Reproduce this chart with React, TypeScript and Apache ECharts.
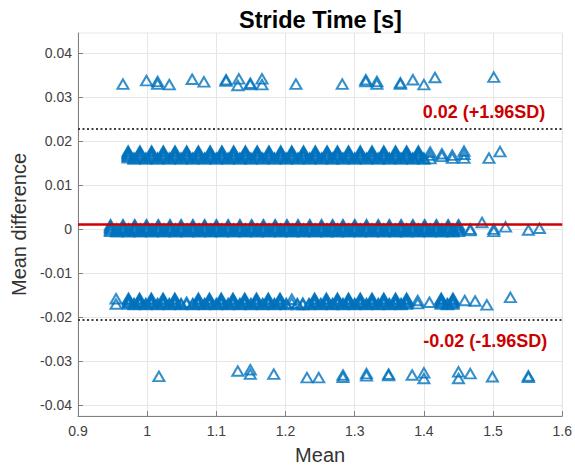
import React, { useEffect, useRef } from "react";
import * as echarts from "echarts";

const titleText = "Stride Time [s]";
const xName = "Mean";
const yName = "Mean difference";
const yTicks = [-0.04, -0.03, -0.02, -0.01, 0, 0.01, 0.02, 0.03, 0.04];

const meanDiff = 0.0012;
const limits = [0.0228, -0.0205];
const limitLabels = ["0.02 (+1.96SD)", "-0.02 (-1.96SD)"];

// Sparse outer rows (+/- two sample steps)
const topRow: number[][] = [
  [0.965, 0.0329], [0.999, 0.0337], [1.015, 0.0335], [1.015, 0.0329], [1.032, 0.0328],
  [1.065, 0.034], [1.082, 0.0334], [1.114, 0.0339], [1.114, 0.0336], [1.1325, 0.0341],
  [1.131, 0.0326], [1.149, 0.0331], [1.149, 0.0328], [1.166, 0.0341], [1.166, 0.0328],
  [1.215, 0.0329], [1.282, 0.0329], [1.316, 0.0339], [1.316, 0.0335], [1.332, 0.0335],
  [1.332, 0.0329], [1.366, 0.0329], [1.366, 0.0332], [1.384, 0.0339], [1.4, 0.0328],
  [1.416, 0.0344], [1.501, 0.0345],
];
const bottomRow: number[][] = [
  [1.017, -0.0334], [1.131, -0.0322], [1.149, -0.0319], [1.149, -0.0329], [1.183, -0.0329],
  [1.231, -0.0337], [1.248, -0.0337], [1.283, -0.0331], [1.283, -0.0336], [1.317, -0.0328],
  [1.317, -0.0333], [1.349, -0.0329], [1.349, -0.0332], [1.383, -0.0331], [1.4, -0.0326],
  [1.4, -0.0339], [1.45, -0.0324], [1.45, -0.0339], [1.467, -0.0328], [1.499, -0.0335],
  [1.551, -0.0333], [1.551, -0.0336],
];

// Dense row at about +1 sample step
const upperBandX = [
  0.9725, 0.9895, 1.0064, 1.0233, 1.0402, 1.0571, 1.074, 1.091, 1.108, 1.125, 1.142, 1.159, 1.176,
  1.193, 1.209, 1.226, 1.243, 1.26, 1.275, 1.291, 1.308, 1.325, 1.342, 1.359, 1.375, 1.392,
];
const upperBandLevels = [0.0177, 0.0175, 0.0172, 0.017, 0.0167, 0.0165, 0.0162];
const upperBandHalfX = [
  0.981, 0.998, 1.015, 1.032, 1.049, 1.066, 1.083, 1.1, 1.117, 1.134, 1.15, 1.167, 1.184, 1.201,
  1.218, 1.235, 1.252, 1.268, 1.283, 1.3, 1.317, 1.334, 1.35, 1.367, 1.384, 1.4,
];
const upperBandHalfLevels = [0.0161, 0.0159];
const upperExtra: number[][] = [
  [1.409, 0.0175], [1.409, 0.0168], [1.409, 0.016], [1.426, 0.0171], [1.426, 0.0165],
  [1.441, 0.0168], [1.441, 0.0161], [1.458, 0.0177], [1.458, 0.017], [1.458, 0.0161],
  [1.494, 0.0161], [1.51, 0.0176],
];

// Dense row around zero
const zeroBandX = [
  0.947, 0.965, 0.982, 0.999, 1.016, 1.033, 1.049, 1.066, 1.083, 1.1, 1.117, 1.134, 1.151, 1.168,
  1.185, 1.202, 1.218, 1.235, 1.252, 1.268, 1.283, 1.3, 1.317, 1.334, 1.35, 1.367, 1.384, 1.401,
  1.418, 1.435, 1.45,
];
const zeroBandLevels = [0.001, 0.0007, 0.0004, 0.0001, -0.0002, -0.0005];
const zeroBandHalfX = [
  0.956, 0.973, 0.99, 1.007, 1.024, 1.041, 1.058, 1.075, 1.092, 1.108, 1.125, 1.142, 1.159, 1.176,
  1.193, 1.21, 1.226, 1.243, 1.26, 1.275, 1.291, 1.308, 1.325, 1.342, 1.359, 1.375, 1.392, 1.409,
  1.426, 1.442,
];
const zeroBandHalfLevels = [0.0, -0.0003, -0.0006];
const zeroExtra: number[][] = [
  [1.467, 0.0], [1.467, -0.0003], [1.484, 0.0015], [1.501, -0.0005], [1.501, 0.0],
  [1.518, 0.0005], [1.551, -0.0002], [1.567, 0.0002],
];

// Dense row at about -1 sample step
const lowerBandX = [
  0.973, 0.989, 1.006, 1.023, 1.04, 1.074, 1.09, 1.107, 1.124, 1.141, 1.158, 1.175, 1.192, 1.242,
  1.259, 1.275, 1.291, 1.308, 1.325, 1.342, 1.359, 1.375, 1.425, 1.442,
];
const lowerBandLevels = [-0.0157, -0.0159, -0.0162, -0.0165, -0.0167, -0.017];
const lowerBandHalfX = [
  0.981, 0.998, 1.015, 1.032, 1.049, 1.066, 1.083, 1.1, 1.117, 1.134, 1.15, 1.167, 1.184, 1.201,
  1.217, 1.234, 1.251, 1.268, 1.283, 1.3, 1.317, 1.334, 1.35, 1.367, 1.434,
];
const lowerBandHalfLevels = [-0.0169, -0.0171];
const lowerExtra: number[][] = [
  [0.955, -0.0158], [0.955, -0.017], [1.057, -0.0166], [1.057, -0.017], [1.209, -0.0159],
  [1.209, -0.0168], [1.225, -0.0168], [1.225, -0.0171], [1.391, -0.0162], [1.391, -0.0169],
  [1.408, -0.0166], [1.459, -0.0162], [1.474, -0.0163], [1.491, -0.0172], [1.525, -0.0155],
];

function band(xs: number[], levels: number[]): number[][] {
  const out: number[][] = [];
  for (const y of levels) for (const x of xs) out.push([x, y]);
  return out;
}

const allPoints: number[][] = [
  ...topRow,
  ...band(upperBandX, upperBandLevels),
  ...band(upperBandHalfX, upperBandHalfLevels),
  ...upperExtra,
  ...band(zeroBandX, zeroBandLevels),
  ...band(zeroBandHalfX, zeroBandHalfLevels),
  ...zeroExtra,
  ...band(lowerBandX, lowerBandLevels),
  ...band(lowerBandHalfX, lowerBandHalfLevels),
  ...lowerExtra,
  ...bottomRow,
];

const FONT = '"Liberation Sans", Arial, Helvetica, sans-serif';
const AXIS_GRAY = "#808080";
const GRID_GRAY = "#e6e6e6";
const LABEL_GRAY = "#404040";
const BLUE = "#0072BD";
const RED = "#cc0000";

export default function App() {
  const ref = useRef<HTMLDivElement>(null);
  useEffect(() => {
    const chart = echarts.init(ref.current as HTMLDivElement, null, { renderer: "svg" });
    const option: any = {
      animation: false,
      backgroundColor: "#ffffff",
      textStyle: { fontFamily: FONT },
      grid: {
        left: 78,
        right: 11,
        top: 33,
        bottom: 53,
        show: true,
        borderColor: GRID_GRAY,
        borderWidth: 1,
        backgroundColor: "transparent",
      },
      graphic: [
        {
          type: "text",
          x: 320.5,
          y: 19.5,
          style: {
            text: titleText,
            fontFamily: FONT,
            fontSize: 23.5,
            fontWeight: "bold",
            fill: "#000000",
            align: "center",
            verticalAlign: "middle",
          },
        },
      ],
      xAxis: {
        type: "value",
        min: 0.9,
        max: 1.6,
        interval: 0.1,
        name: xName,
        nameLocation: "middle",
        nameGap: 29,
        nameTextStyle: { fontSize: 20, color: "#333333", fontFamily: FONT },
        axisLine: { show: true, onZero: false, lineStyle: { color: AXIS_GRAY, width: 1 } },
        axisTick: { show: true, inside: true, length: 5, lineStyle: { color: AXIS_GRAY } },
        axisLabel: {
          fontSize: 14,
          color: LABEL_GRAY,
          margin: 8,
          showMinLabel: true,
          showMaxLabel: true,
          formatter: (v: number) => String(parseFloat(v.toFixed(2))),
        },
        splitLine: { show: true, lineStyle: { color: GRID_GRAY, width: 1 } },
      },
      yAxis: {
        type: "value",
        min: -0.0424,
        max: 0.0445,
        name: yName,
        nameLocation: "middle",
        nameGap: 45,
        nameTextStyle: { fontSize: 20, color: "#333333", fontFamily: FONT },
        axisLine: { show: true, onZero: false, lineStyle: { color: AXIS_GRAY, width: 1 } },
        axisTick: {
          show: true,
          inside: true,
          length: 5,
          customValues: yTicks,
          lineStyle: { color: AXIS_GRAY },
        },
        axisLabel: {
          fontSize: 14,
          color: LABEL_GRAY,
          margin: 6,
          customValues: yTicks,
          formatter: (v: number) => {
            const r = Math.round(v * 100) / 100;
            return r === 0 ? "0" : String(r);
          },
        },
        splitLine: { show: true, lineStyle: { color: GRID_GRAY, width: 1 } },
      },
      series: [
        {
          type: "scatter",
          data: allPoints,
          symbol: "triangle",
          symbolSize: [11, 9.5],
          silent: true,
          itemStyle: { color: "rgba(0,0,0,0)", borderColor: BLUE, borderWidth: 2 },
          emphasis: { disabled: true },
          markLine: {
            silent: true,
            symbol: "none",
            animation: false,
            precision: 6,
            z: 5,
            data: [
              {
                yAxis: meanDiff,
                lineStyle: { color: RED, width: 2.5, type: "solid" },
                label: { show: false },
              },
              {
                yAxis: limits[0],
                lineStyle: { color: "#404040", width: 2, type: [2, 2.5] },
                label: {
                  show: true,
                  position: "insideEndTop",
                  formatter: limitLabels[0],
                  color: RED,
                  fontWeight: "bold",
                  fontSize: 18,
                  fontFamily: FONT,
                  distance: [17, 8],
                },
              },
              {
                yAxis: limits[1],
                lineStyle: { color: "#404040", width: 2, type: [2, 2.5] },
                label: {
                  show: true,
                  position: "insideEndBottom",
                  formatter: limitLabels[1],
                  color: RED,
                  fontWeight: "bold",
                  fontSize: 18,
                  fontFamily: FONT,
                  distance: [15, 13],
                },
              },
            ],
          },
        },
      ],
    };
    chart.setOption(option);
    return () => chart.dispose();
  }, []);
  return (
    <div
      ref={ref}
      style={{ position: "fixed", left: 0, top: 0, width: 575, height: 470, background: "#fff" }}
    />
  );
}
